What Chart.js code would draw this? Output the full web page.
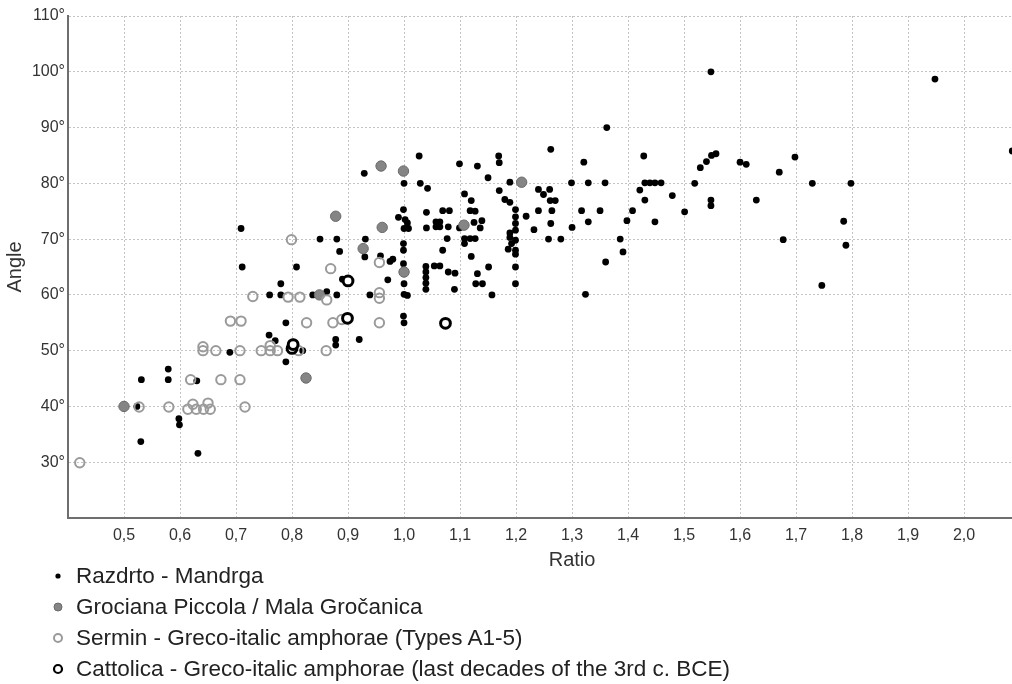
<!DOCTYPE html>
<html><head><meta charset="utf-8">
<script src="https://cdn.jsdelivr.net/npm/chart.js@4.4.1/dist/chart.umd.min.js"></script>
<style>
html,body{margin:0;padding:0;background:#fff;}
#wrap{position:relative;width:1012px;height:684px;overflow:hidden;}
canvas{display:block;}
#legend{position:absolute;left:48px;top:560px;font-family:"Liberation Sans",Arial,sans-serif;font-size:22.5px;color:#222;}
.item{height:31px;display:flex;align-items:center;white-space:nowrap;}
.item svg{width:20px;height:20px;margin-right:8px;flex:none;}
</style></head>
<body><div id="wrap"><canvas id="c" width="1084" height="684"></canvas><div id="legend"></div></div>
<script>
// ---- data ----
const razdrtoRatio = [0.523,0.531,0.530,0.579,0.579,0.598,0.599,0.630,0.632,0.689,0.711,0.709,0.760,0.780,0.780,0.789,0.759,0.770,0.819,0.789,0.808,0.837,0.862,0.880,0.850,0.880,0.885,0.878,0.878,0.920,0.931,0.930,0.929,0.939,0.971,0.958,0.975,0.980,0.890,
1.000,0.999,0.990,1.002,1.006,1.000,1.008,0.999,0.999,0.999,1.000,1.000,1.006,0.999,1.000,
1.027,1.029,1.042,1.040,1.040,1.039,1.039,1.039,1.039,1.039,1.054,1.064,
1.057,1.064,1.057,1.064,1.069,1.081,1.079,1.069,1.077,1.079,1.091,1.090,
1.099,1.131,1.108,1.120,1.118,1.127,1.099,1.125,1.139,1.136,1.108,1.118,1.127,1.108,1.120,1.131,1.128,1.140,1.151,1.157,1.150,1.169,1.170,1.170,1.189,1.180,1.189,
1.199,1.199,1.199,1.199,1.189,1.189,1.199,1.192,1.199,1.199,1.186,1.199,1.199,1.218,
1.362,1.262,1.321,1.428,1.299,1.329,1.359,1.430,1.439,1.448,1.459,1.421,1.430,1.240,1.249,1.260,1.261,1.270,1.240,1.264,1.317,1.350,1.408,1.262,1.329,1.398,1.448,1.232,1.300,1.258,1.280,1.386,1.391,1.360,1.324,
1.529,1.540,1.549,1.557,1.600,1.611,1.519,1.479,1.548,1.548,1.629,1.501,1.548,1.948,2.086,1.698,1.670,1.729,1.798,1.785,1.677,1.789,1.746];
const razdrtoAngle = [40.0,44.8,33.7,46.7,44.8,37.8,36.7,44.6,31.6,49.7,65.0,71.9,60.0,60.0,62.0,55.0,52.8,51.8,50.0,48.0,65.0,60.0,60.6,60.0,70.0,70.0,67.8,52.0,51.0,52.0,70.0,66.8,81.8,60.0,62.7,67.0,66.0,66.4,62.8,
80.0,75.3,73.9,73.5,72.9,71.9,71.9,69.2,68.0,65.6,62.0,60.1,59.9,56.2,55.0,
84.9,80.0,79.1,74.8,72.0,65.1,64.1,63.1,62.1,61.0,65.2,65.2,
73.1,73.1,72.2,72.2,75.1,75.1,72.2,68.0,70.1,64.1,63.9,61.0,
83.5,83.1,78.1,76.9,75.1,75.0,72.0,73.0,73.3,72.0,70.1,70.1,70.1,69.2,66.9,63.8,62.0,62.0,65.0,60.0,81.0,84.9,83.7,78.7,80.2,77.1,76.6,
75.3,74.0,72.8,71.6,71.1,70.3,69.8,69.2,68.0,67.3,68.2,65.0,62.0,74.1,
90.0,86.1,83.8,84.9,80.1,80.1,80.1,80.1,80.1,80.1,80.1,78.8,77.0,78.9,78.0,78.9,76.9,76.9,75.1,75.1,75.1,75.1,75.1,72.8,73.1,73.3,73.1,71.7,72.1,70.0,70.0,70.0,67.7,65.9,60.1,
82.8,83.9,85.0,85.3,83.8,83.4,80.0,77.8,77.0,76.0,77.0,74.9,100.0,98.7,85.8,84.7,82.0,80.0,80.0,73.2,69.9,68.9,61.7];

const grocianaRatio = [0.500,0.825,0.849,0.878,0.927,0.959,0.999,0.961,1.000,1.107,1.210];
const grocianaAngle = [40.0,45.1,60.0,74.1,68.3,83.1,82.2,72.1,64.1,72.5,80.2];

const serminRatio = [0.421,0.527,0.580,0.614,0.629,0.642,0.654,0.623,0.650,0.716,0.619,0.673,0.707,0.641,0.641,0.664,0.707,0.745,0.761,0.774,0.761,0.812,0.861,0.690,0.709,0.826,0.873,0.889,0.956,0.730,0.793,0.814,0.862,0.869,0.799,0.956,0.956,0.956,0.802];
const serminAngle = [29.9,39.9,39.9,39.5,39.5,39.5,39.5,40.4,40.6,39.9,44.8,44.8,44.8,50.7,50.0,50.0,50.0,50.0,50.0,50.0,50.9,50.0,50.0,55.3,55.3,55.0,55.0,55.6,55.0,59.7,59.6,59.6,59.1,64.7,69.9,65.8,60.4,59.4,51.2];

const cattolicaRatio = [0.800,0.802,0.900,0.899,1.074];
const cattolicaAngle = [50.4,51.1,62.5,55.8,54.9];

const seriesNames = ['Razdrto - Mandrga','Grociana Piccola / Mala Gročanica','Sermin - Greco-italic amphorae (Types A1-5)','Cattolica - Greco-italic amphorae (last decades of the 3rd c. BCE)'];

const xTicks = [0.5,0.6,0.7,0.8,0.9,1.0,1.1,1.2,1.3,1.4,1.5,1.6,1.7,1.8,1.9,2.0];
const yTicks = [30,40,50,60,70,80,90,100,110];
const xMin = 0.4, xMax = 2.2, yMin = 20, yMax = 110;

// ---- chart ----
const pts = (xs, ys) => xs.map((x, i) => ({x: x, y: ys[i]}));
const FONT = '"Liberation Sans", Arial, sans-serif';

const styles = [
  {r:3.4, bg:'#000', bc:'#000', bw:0, order:3},
  {r:5.2, bg:'#858585', bc:'#6a6a6a', bw:1, order:2},
  {r:4.7, bg:'rgba(255,255,255,0)', bc:'#9a9a9a', bw:2, order:1},
  {r:4.9, bg:'#fff', bc:'#000', bw:3, order:0}
];
const sets = [
  pts(razdrtoRatio, razdrtoAngle),
  pts(grocianaRatio, grocianaAngle),
  pts(serminRatio, serminAngle),
  pts(cattolicaRatio, cattolicaAngle)
];

const chart = new Chart(document.getElementById('c'), {
  type: 'scatter',
  data: {
    datasets: sets.map((d, i) => ({
      label: seriesNames[i], data: d, order: styles[i].order,
      pointRadius: styles[i].r, pointHoverRadius: styles[i].r,
      pointBackgroundColor: styles[i].bg, pointBorderColor: styles[i].bc,
      pointBorderWidth: styles[i].bw, clip: false
    }))
  },
  options: {
    responsive: false, animation: false, devicePixelRatio: 1,
    layout: {padding: {top: 16, bottom: 104, left: 0, right: 0}},
    plugins: {legend: {display: false}, tooltip: {enabled: false}},
    scales: {
      x: {
        type: 'linear', min: xMin, max: xMax,
        afterBuildTicks: s => { s.ticks = xTicks.map(v => ({value: v})); },
        afterFit: s => { s.height = 62; },
        ticks: {callback: v => Number(v).toFixed(1).replace('.', ','), font: {family: FONT, size: 16}, color: '#333', padding: 8, autoSkip: false, maxRotation: 0},
        grid: {color: '#c4c4c4', lineWidth: 1, drawTicks: false},
        border: {color: '#6e6e6e', width: 2, dash: [2, 2]},
        title: {display: true, text: 'Ratio', font: {family: FONT, size: 20}, color: '#333', padding: {top: 0, bottom: 8}}
      },
      y: {
        type: 'linear', min: yMin, max: yMax,
        afterBuildTicks: s => { s.ticks = yTicks.map(v => ({value: v})); },
        afterFit: s => { s.width = 68; },
        ticks: {callback: v => v + '°', font: {family: FONT, size: 16}, color: '#333', padding: 3},
        grid: {color: '#c4c4c4', lineWidth: 1, drawTicks: false},
        border: {color: '#6e6e6e', width: 2, dash: [2, 2]},
        title: {display: true, text: 'Angle', font: {family: FONT, size: 20}, color: '#333', padding: {top: 3, bottom: 0}}
      }
    }
  }
});

// ---- legend (HTML text) ----
const leg = document.getElementById('legend');
chart.data.datasets.forEach((ds, i) => {
  const st = styles[i];
  const r = i === 0 ? 2.6 : 4;
  const sw = st.bw ? Math.min(st.bw, 2.2) : 0;
  const div = document.createElement('div');
  div.className = 'item';
  div.innerHTML = '<svg viewBox="0 0 20 20"><circle cx="10" cy="10" r="' + r + '" fill="' + (i === 2 ? '#fff' : st.bg) + '" stroke="' + st.bc + '" stroke-width="' + sw + '"/></svg><span></span>';
  div.querySelector('span').textContent = ds.label;
  leg.appendChild(div);
});
</script>
</body></html>
